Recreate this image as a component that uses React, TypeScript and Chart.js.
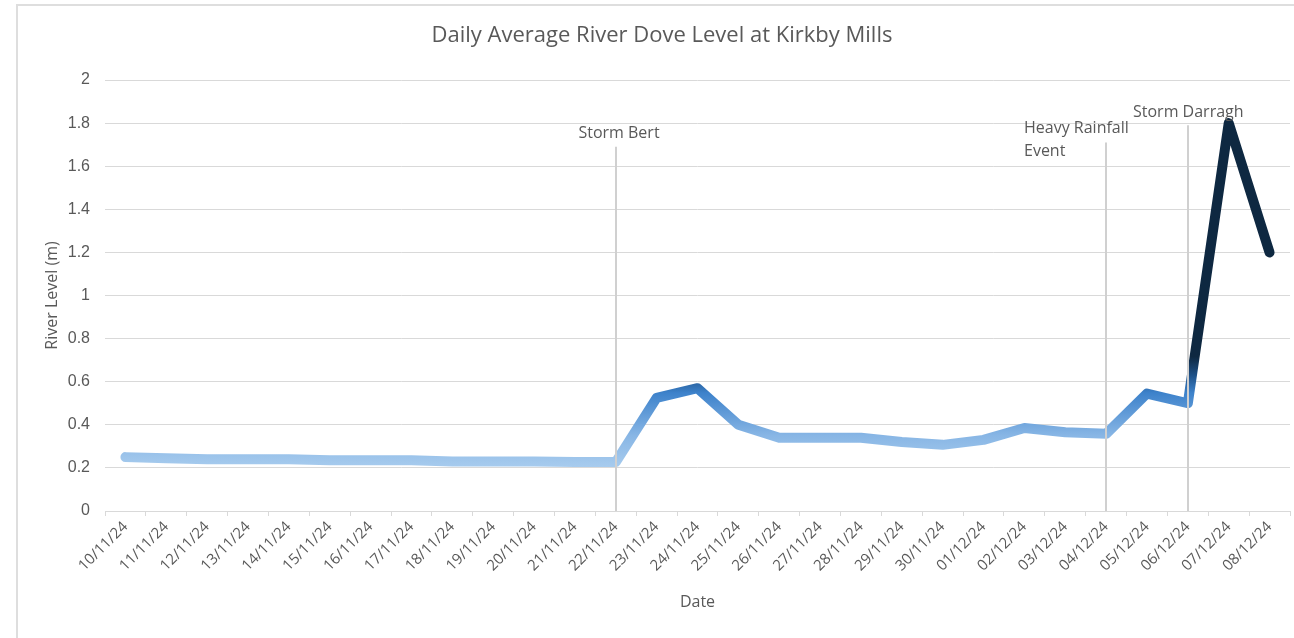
import React, { useEffect, useRef } from "react";
import { Chart, registerables } from "chart.js";

Chart.register(...registerables);

const chartTitle = "Daily Average River Dove Level at Kirkby Mills";

const dates = [
  "10/11/24", "11/11/24", "12/11/24", "13/11/24", "14/11/24", "15/11/24", "16/11/24",
  "17/11/24", "18/11/24", "19/11/24", "20/11/24", "21/11/24", "22/11/24", "23/11/24",
  "24/11/24", "25/11/24", "26/11/24", "27/11/24", "28/11/24", "29/11/24", "30/11/24",
  "01/12/24", "02/12/24", "03/12/24", "04/12/24", "05/12/24", "06/12/24", "07/12/24",
  "08/12/24",
];

const riverLevels = [
  0.25, 0.245, 0.24, 0.24, 0.24, 0.235, 0.235, 0.235, 0.23, 0.23, 0.23, 0.227, 0.227,
  0.525, 0.57, 0.4, 0.34, 0.34, 0.34, 0.32, 0.307, 0.33, 0.385, 0.365, 0.358,
  0.545, 0.5, 1.8, 1.2,
];

const eventDates = ["22/11/24", "04/12/24", "06/12/24"];
const eventLabels = [["Storm Bert"], ["Heavy Rainfall", "Event"], ["Storm Darragh"]];
const eventLineTops = [1.69, 1.71, 1.79];

const yTicks = [0, 0.2, 0.4, 0.6, 0.8, 1, 1.2, 1.4, 1.6, 1.8, 2];

const TEXT = "#595959";
const GRID = "#d9d9d9";
const SANS = "'Open Sans', 'Noto Sans', sans-serif";

// label placement relative to the event line (dx: offset of text anchor from line x, dy: from line top)
const eventLabelStyle = [
  { align: "center" as CanvasTextAlign, dx: 3, dy: -13 },
  { align: "left" as CanvasTextAlign, dx: -82, dy: -14 },
  { align: "left" as CanvasTextAlign, dx: -55, dy: -13 },
];

const framePlugin = {
  id: "frame",
  beforeDraw(chart: any) {
    const { ctx, width, height } = chart;
    ctx.save();
    ctx.fillStyle = "#ffffff";
    ctx.fillRect(0, 0, width, height);
    ctx.strokeStyle = "#dedede";
    ctx.lineWidth = 2;
    ctx.beginPath();
    ctx.moveTo(17, height);
    ctx.lineTo(17, 5);
    ctx.lineTo(width, 5);
    ctx.stroke();
    ctx.restore();
  },
  afterDraw(chart: any) {
    const { ctx } = chart;
    ctx.save();
    ctx.fillStyle = TEXT;
    ctx.font = "22px " + SANS;
    ctx.textAlign = "center";
    ctx.textBaseline = "middle";
    ctx.fillText(chartTitle, 662, 36);
    ctx.restore();
  },
};

const eventPlugin = {
  id: "events",
  afterDatasetsDraw(chart: any) {
    const { ctx, scales } = chart;
    const xs = scales.x;
    const ys = scales.y;
    ctx.save();
    eventDates.forEach((d, i) => {
      const idx = dates.indexOf(d);
      if (idx < 0) return;
      const x = Math.round(xs.getPixelForValue(idx));
      const top = ys.getPixelForValue(eventLineTops[i]);
      const bottom = ys.getPixelForValue(0);
      ctx.strokeStyle = "#d0d0d0";
      ctx.lineWidth = 2;
      ctx.beginPath();
      ctx.moveTo(x, bottom);
      ctx.lineTo(x, top);
      ctx.stroke();
      const st = eventLabelStyle[i];
      ctx.fillStyle = TEXT;
      ctx.font = "16px " + SANS;
      ctx.textAlign = st.align;
      ctx.textBaseline = "middle";
      eventLabels[i].forEach((line, k) => {
        ctx.fillText(line, x + st.dx, top + st.dy + k * 23);
      });
    });
    ctx.restore();
  },
};

function lineGradient(context: any) {
  const chart = context.chart;
  const { chartArea, scales } = chart;
  if (!chartArea || !scales.y) return "#9fc5ea";
  const y = scales.y;
  const p0 = y.getPixelForValue(0.2);
  const p1 = y.getPixelForValue(0.8);
  const g = chart.ctx.createLinearGradient(0, p0, 0, p1);
  g.addColorStop(0, "#a8ccee");
  g.addColorStop(0.25, "#88b6e5");
  g.addColorStop(0.58, "#3d82cb");
  g.addColorStop(0.72, "#1d4f85");
  g.addColorStop(0.86, "#0e2841");
  g.addColorStop(1, "#0e2841");
  return g;
}

export default function App() {
  const canvasRef = useRef<HTMLCanvasElement | null>(null);

  useEffect(() => {
    if (!canvasRef.current) return;
    const chart = new Chart(canvasRef.current, {
      type: "line",
      data: {
        labels: dates,
        datasets: [
          {
            label: "River Level",
            data: riverLevels,
            borderColor: lineGradient,
            borderWidth: 10,
            borderCapStyle: "round",
            borderJoinStyle: "round",
            pointRadius: 0,
            pointHoverRadius: 0,
            tension: 0,
            fill: false,
          },
        ],
      },
      options: {
        animation: false,
        responsive: false,
        maintainAspectRatio: false,
        events: [],
        layout: { padding: { left: 17, right: 4, top: 0, bottom: 0 } },
        plugins: {
          legend: { display: false },
          tooltip: { enabled: false },
          title: {
            // reserves the title band; the text itself is drawn by the frame plugin
            display: true,
            text: chartTitle,
            color: "rgba(0,0,0,0)",
            font: { family: SANS, size: 22, weight: "normal", lineHeight: 1.2 },
            padding: { top: 23, bottom: 30.6 },
          },
        },
        scales: {
          x: {
            type: "category",
            offset: true,
            afterFit: (s: any) => {
              s.height = 127;
            },
            grid: {
              display: true,
              drawOnChartArea: false,
              drawTicks: true,
              tickLength: 5,
              color: GRID,
              offset: true,
            },
            border: { display: true, color: GRID, width: 1 },
            ticks: {
              color: TEXT,
              font: { family: SANS, size: 15 },
              minRotation: 45,
              maxRotation: 45,
              autoSkip: false,
              padding: 2,
            },
            title: {
              display: true,
              text: "Date",
              color: TEXT,
              font: { family: SANS, size: 16 },
              padding: { top: 0, bottom: 26 },
            },
          },
          y: {
            min: 0,
            max: 2,
            afterFit: (s: any) => {
              s.width = 88;
            },
            afterBuildTicks: (s: any) => {
              s.ticks = yTicks.map((v) => ({ value: v }));
            },
            grid: { color: GRID, drawTicks: false, lineWidth: 1 },
            border: { display: false },
            ticks: {
              color: TEXT,
              font: { family: "'Liberation Sans', Arial, sans-serif", size: 16 },
              padding: 15,
              callback: (v: any) => String(Math.round(Number(v) * 10) / 10),
            },
            title: {
              display: true,
              text: "River Level (m)",
              color: TEXT,
              font: { family: SANS, size: 16 },
              padding: { top: 26, bottom: 0 },
            },
          },
        },
      },
      plugins: [framePlugin, eventPlugin],
    });
    return () => chart.destroy();
  }, []);

  return (
    <div style={{ position: "fixed", left: 0, top: 0, width: 1294, height: 638, background: "#fff" }}>
      <canvas ref={canvasRef} width={1294} height={638} style={{ width: 1294, height: 638, display: "block" }} />
    </div>
  );
}
